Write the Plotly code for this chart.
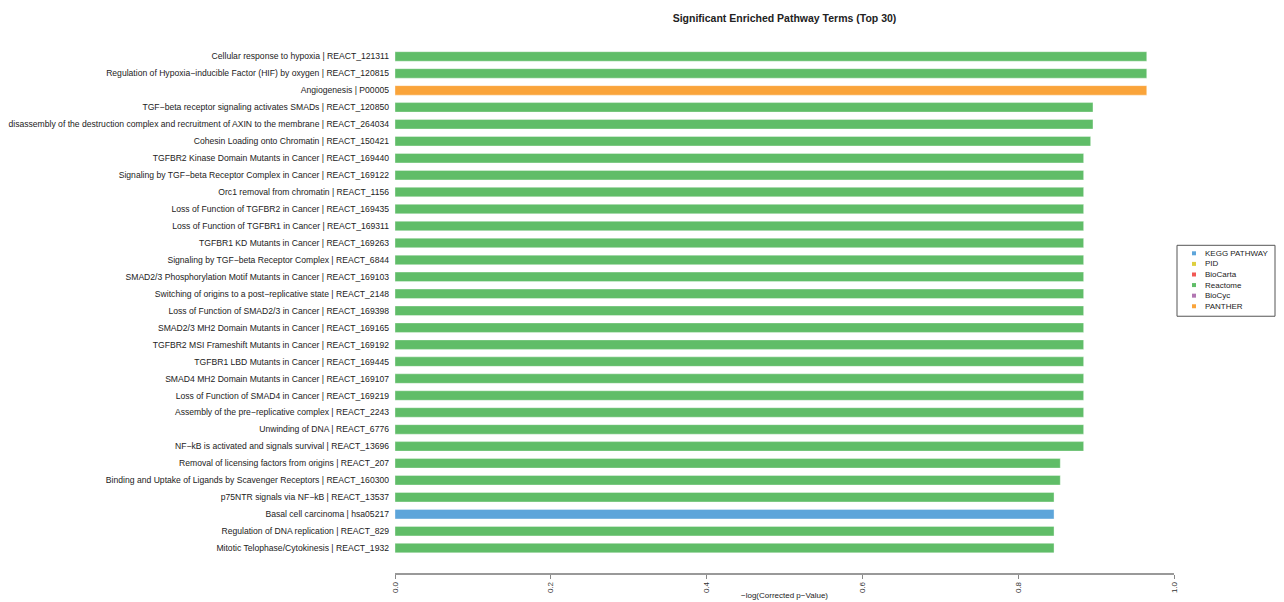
import plotly.graph_objects as go

# Pathway terms, top to bottom
terms = [
    "Cellular response to hypoxia | REACT_121311",
    "Regulation of Hypoxia\u2212inducible Factor (HIF) by oxygen | REACT_120815",
    "Angiogenesis | P00005",
    "TGF\u2212beta receptor signaling activates SMADs | REACT_120850",
    "disassembly of the destruction complex and recruitment of AXIN to the membrane | REACT_264034",
    "Cohesin Loading onto Chromatin | REACT_150421",
    "TGFBR2 Kinase Domain Mutants in Cancer | REACT_169440",
    "Signaling by TGF\u2212beta Receptor Complex in Cancer | REACT_169122",
    "Orc1 removal from chromatin | REACT_1156",
    "Loss of Function of TGFBR2 in Cancer | REACT_169435",
    "Loss of Function of TGFBR1 in Cancer | REACT_169311",
    "TGFBR1 KD Mutants in Cancer | REACT_169263",
    "Signaling by TGF\u2212beta Receptor Complex | REACT_6844",
    "SMAD2/3 Phosphorylation Motif Mutants in Cancer | REACT_169103",
    "Switching of origins to a post\u2212replicative state | REACT_2148",
    "Loss of Function of SMAD2/3 in Cancer | REACT_169398",
    "SMAD2/3 MH2 Domain Mutants in Cancer | REACT_169165",
    "TGFBR2 MSI Frameshift Mutants in Cancer | REACT_169192",
    "TGFBR1 LBD Mutants in Cancer | REACT_169445",
    "SMAD4 MH2 Domain Mutants in Cancer | REACT_169107",
    "Loss of Function of SMAD4 in Cancer | REACT_169219",
    "Assembly of the pre\u2212replicative complex | REACT_2243",
    "Unwinding of DNA | REACT_6776",
    "NF\u2212kB is activated and signals survival | REACT_13696",
    "Removal of licensing factors from origins | REACT_207",
    "Binding and Uptake of Ligands by Scavenger Receptors | REACT_160300",
    "p75NTR signals via NF\u2212kB | REACT_13537",
    "Basal cell carcinoma | hsa05217",
    "Regulation of DNA replication | REACT_829",
    "Mitotic Telophase/Cytokinesis | REACT_1932",
]

# -log(Corrected p-Value)
scores = [
    0.965, 0.965, 0.965, 0.896, 0.896, 0.893,
    0.884, 0.884, 0.884, 0.884, 0.884, 0.884,
    0.884, 0.884, 0.884, 0.884, 0.884, 0.884,
    0.884, 0.884, 0.884, 0.884, 0.884, 0.884,
    0.854, 0.854, 0.846, 0.846, 0.846, 0.846,
]

sources = ["Reactome", "Reactome", "PANTHER"] + ["Reactome"] * 24 + ["KEGG PATHWAY", "Reactome", "Reactome"]

# Database categories and their colours (legend order)
categories = ["KEGG PATHWAY", "PID", "BioCarta", "Reactome", "BioCyc", "PANTHER"]
cat_colors = ["#5DA5DA", "#DECF3F", "#F15854", "#60BD68", "#B276B2", "#FAA43A"]
color_of = dict(zip(categories, cat_colors))

x_ticks = [0.0, 0.2, 0.4, 0.6, 0.8, 1.0]

FONT = "Liberation Sans, Arial, sans-serif"
W, H = 1284, 602
L, R, T, B = 395, 110, 47.5, 29
pw, ph = W - L - R, H - T - B

fig = go.Figure(
    go.Bar(
        x=scores,
        y=terms,
        orientation="h",
        width=0.56,
        marker=dict(
            color=[color_of[s] for s in sources],
            line=dict(color="rgba(255,255,255,0.35)", width=1),
        ),
        showlegend=False,
        hoverinfo="x+y",
    )
)

fig.update_layout(
    width=W,
    height=H,
    margin=dict(l=L, r=R, t=T, b=B, autoexpand=False),
    paper_bgcolor="white",
    plot_bgcolor="white",
    font=dict(family=FONT, color="#222222"),
    title=dict(
        text="<b>Significant Enriched Pathway Terms (Top 30)</b>",
        x=(L + pw / 2) / W,
        xanchor="center",
        y=1 - 18 / H,
        yanchor="middle",
        font=dict(size=10.5, family=FONT, color="#222222"),
    ),
    bargap=0.44,
)

fig.update_xaxes(
    range=[0, 1],
    tickvals=x_ticks,
    ticktext=[f"{v:.1f}" for v in x_ticks],
    tickangle=-90,
    ticks="outside",
    ticklen=4,
    tickcolor="#888888",
    tickfont=dict(size=8, family=FONT, color="#333333"),
    showline=True,
    linecolor="#999999",
    linewidth=1.5,
    showgrid=False,
    zeroline=False,
    automargin=False,
)

fig.update_yaxes(
    type="category",
    categoryorder="array",
    categoryarray=terms,
    range=[len(terms) - 1 + 1.47, -0.5],
    showline=False,
    showgrid=False,
    zeroline=False,
    ticks="",
    ticklabelstandoff=5,
    tickfont=dict(size=8.6, family=FONT, color="#222222"),
    automargin=False,
)

# x-axis title
fig.add_annotation(
    text="\u2212log(Corrected p\u2212Value)",
    xref="paper", yref="paper",
    x=0.5, y=-(596 - (T + ph)) / ph,
    xanchor="center", yanchor="middle",
    showarrow=False,
    font=dict(size=8, family=FONT, color="#222222"),
)

# Legend box with coloured keys
def px_x(px):
    return (px - L) / pw

def px_y(py):
    return (T + ph - py) / ph

fig.add_shape(
    type="rect", xref="paper", yref="paper",
    x0=px_x(1177), x1=px_x(1275), y0=px_y(316), y1=px_y(245),
    line=dict(color="#555555", width=1), fillcolor="white",
)
for i, (name, col) in enumerate(zip(categories, cat_colors)):
    cy = 253 + i * 10.6
    fig.add_shape(
        type="rect", xref="paper", yref="paper",
        x0=px_x(1192), x1=px_x(1196), y0=px_y(cy + 2), y1=px_y(cy - 2),
        line=dict(width=0), fillcolor=col,
    )
    fig.add_annotation(
        text=name, xref="paper", yref="paper",
        x=px_x(1203), y=px_y(cy),
        xanchor="left", yanchor="middle",
        showarrow=False,
        font=dict(size=8, family=FONT, color="#222222"),
    )

fig.write_html("out.html")
